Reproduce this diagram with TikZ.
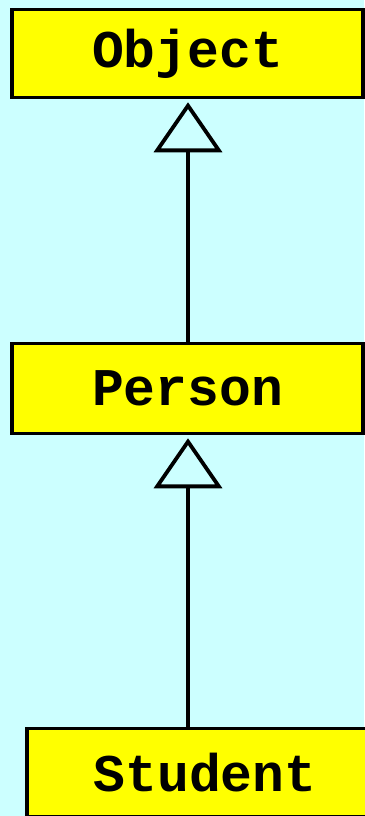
\documentclass[tikz,border=0pt]{standalone}
\usepackage{fontspec}
\setmonofont{Liberation Mono}
\usetikzlibrary{arrows.meta}
\definecolor{bgcyan}{RGB}{204,255,255}
\definecolor{boxyellow}{RGB}{255,255,0}
\tikzset{
  classbox/.style={draw=black, line width=3.5pt, fill=boxyellow, rectangle,
    inner sep=0pt, font=\fontsize{53}{53}\selectfont\ttfamily\bfseries},
  inherit/.style={draw=black, line width=3.8pt,
    -{Triangle[open, length=50pt, width=68pt, line width=3.8pt]}, shorten >=3pt}
}
\begin{document}
\begin{tikzpicture}[x=1pt,y=-1pt]
\fill[bgcyan] (0,0) rectangle (364,816);
\useasboundingbox (0,0) rectangle (364,816);
\node[classbox, minimum width=351pt, minimum height=88pt] (object) at (187.5,53.5) {Object};
\node[classbox, minimum width=351pt, minimum height=90pt] (person) at (187.5,388.5) {Person};
\node[classbox, minimum width=356pt, minimum height=88pt] (student) at (205,772.5) {Student};
\draw[inherit] (person.north -| 188,0) -- (object.south -| 188,0);
\draw[inherit] (student.north -| 188,0) -- (person.south -| 188,0);
\end{tikzpicture}
\end{document}
